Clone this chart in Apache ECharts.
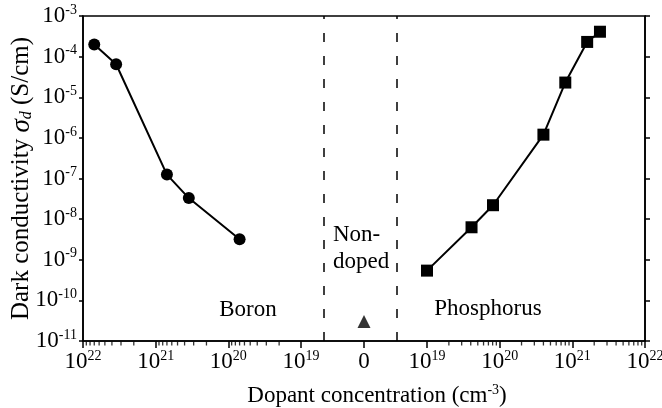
<!DOCTYPE html>
<html>
<head>
<meta charset="utf-8">
<script src="https://cdn.jsdelivr.net/npm/echarts@6/dist/echarts.min.js"></script>
<style>
  html, body { margin: 0; padding: 0; background: #fff; }
  #chart { width: 662px; height: 408px; }
</style>
</head>
<body>
<div id="chart"></div>
<script>
(function(){
    'use strict';

    // boron doped (left half, concentration decreasing to the right)
    var boronConc  = [7.0e21, 3.5e21, 7.0e20, 3.5e20, 7.0e19];
    var boronSigma = [2.0e-4, 6.5e-5, 1.25e-7, 3.3e-8, 3.2e-9];

    // phosphorus doped (right half)
    var phosConc  = [1.0e19, 4.1e19, 8.1e19, 4.0e20, 8.0e20, 1.6e21, 2.4e21];
    var phosSigma = [5.4e-10, 6.3e-9, 2.2e-8, 1.2e-6, 2.3e-5, 2.3e-4, 4.1e-4];

    // non-doped sample, drawn at the "0" position
    var nonDopedSigma = [3.0e-11];

    // x axis tick decades on each side, plus the boundaries of the non-doped band
    var tickDecades = [19, 20, 21, 22];
    var minorMultipliers = [2, 3, 4, 5, 6, 7, 8, 9];
    var bandEdges = [-0.56, 0.45];

    var GAP = 0.867; // axis units between "0" and 10^19
    var FONT = 'Liberation Serif';
    var Y_MIN = 1e-11, Y_MAX = 1e-3;

    function toAxis(conc, side){
        return side * (GAP + Math.log10(conc) - 19);
    }

    var xMin = toAxis(1e22, -1);
    var xMax = toAxis(1e22, 1);

    var majorTicks = [0];
    tickDecades.forEach(function(d){
        majorTicks.push(toAxis(Math.pow(10, d), -1));
        majorTicks.push(toAxis(Math.pow(10, d), 1));
    });
    // log minor ticks, drawn as small marks sitting on the bottom axis
    var minorTickData = [];
    tickDecades.slice(0, 3).forEach(function(d){
        minorMultipliers.forEach(function(m){
            minorTickData.push([toAxis(m * Math.pow(10, d), -1), Y_MIN]);
            minorTickData.push([toAxis(m * Math.pow(10, d), 1), Y_MIN]);
        });
    });

    var boronData = boronConc.map(function(c, i){ return [toAxis(c, -1), boronSigma[i]]; });
    var phosData = phosConc.map(function(c, i){ return [toAxis(c, 1), phosSigma[i]]; });
    var nonDopedData = nonDopedSigma.map(function(s){ return [0, s]; });

    var rich = {
        b: { fontFamily: FONT, fontSize: 23, color: '#000', lineHeight: 26 },
        s: { fontFamily: FONT, fontSize: 14, color: '#000', verticalAlign: 'top', lineHeight: 14 }
    };

    var myChart = echarts.init(document.getElementById('chart'), null, { renderer: 'canvas' });
    var option = {
        animation: false,
        backgroundColor: '#fff',
        grid: {
            left: 83, right: 17, top: 16, bottom: 67,
            outerBoundsMode: 'none', containLabel: false,
            show: true, borderColor: '#000', borderWidth: 1.6, backgroundColor: 'transparent'
        },
        xAxis: {
            type: 'value',
            min: xMin, max: xMax,
            position: 'bottom',
            splitLine: { show: false },
            axisLine: { show: true, onZero: false, lineStyle: { color: '#000', width: 1.6 } },
            axisTick: { show: true, customValues: majorTicks, length: 7, lineStyle: { color: '#000', width: 1.5 } },
            axisLabel: {
                customValues: majorTicks,
                margin: 8,
                formatter: function(v){
                    if (Math.abs(v) < 1e-6) return '{b|0}';
                    var e = Math.round(Math.abs(v) - GAP + 19);
                    return '{b|10}{s|' + e + '}';
                },
                rich: rich
            },
            name: '{b|Dopant concentration (cm}{s|-3}{b|)}',
            nameLocation: 'middle',
            nameGap: 42,
            nameMoveOverlap: false,
            nameTextStyle: { rich: rich, padding: [0, 0, 0, 26] }
        },
        yAxis: [
            {
                type: 'log',
                logBase: 10,
                min: Y_MIN, max: Y_MAX,
                position: 'left',
                splitLine: { show: false },
                axisLine: { show: true, onZero: false, lineStyle: { color: '#000', width: 1.6 } },
                axisTick: { show: true, length: 4, lineStyle: { color: '#000', width: 1.5 } },
                axisLabel: {
                    margin: 6,
                    formatter: function(v){
                        return '{b|10}{s|' + Math.round(Math.log10(v)) + '}';
                    },
                    rich: rich
                },
                name: 'Dark conductivity {i|σ}{d|d} (S/cm)',
                nameLocation: 'middle',
                nameGap: 48,
                nameMoveOverlap: false,
                nameTextStyle: {
                    fontFamily: FONT, fontSize: 25, color: '#000',
                    rich: {
                        i: { fontFamily: FONT, fontSize: 27, fontStyle: 'italic', color: '#000' },
                        d: { fontFamily: FONT, fontSize: 16, fontStyle: 'italic', color: '#000', verticalAlign: 'bottom', lineHeight: 24 }
                    }
                }
            },
            {
                type: 'log',
                logBase: 10,
                min: Y_MIN, max: Y_MAX,
                position: 'right',
                splitLine: { show: false },
                axisLine: { show: true, onZero: false, lineStyle: { color: '#000', width: 1.6 } },
                axisTick: { show: true, length: 5, lineStyle: { color: '#000', width: 1.5 } },
                axisLabel: { show: false }
            }
        ],
        series: [
            {
                name: 'Boron',
                type: 'line',
                data: boronData,
                symbol: 'circle',
                symbolSize: 12,
                itemStyle: { color: '#000' },
                lineStyle: { color: '#000', width: 2 }
            },
            {
                name: 'Phosphorus',
                type: 'line',
                data: phosData,
                symbol: 'rect',
                symbolSize: 12,
                itemStyle: { color: '#000' },
                lineStyle: { color: '#000', width: 2 }
            },
            {
                name: 'Non-doped',
                type: 'scatter',
                data: nonDopedData,
                symbol: 'triangle',
                symbolSize: 13,
                itemStyle: { color: '#000' },
                markLine: {
                    silent: true,
                    symbol: 'none',
                    label: { show: false },
                    lineStyle: { color: '#000', width: 1.5, type: [9, 14] },
                    data: bandEdges.map(function(x){ return { xAxis: x }; })
                }
            },
            {
                name: 'minor ticks',
                type: 'scatter',
                data: minorTickData,
                symbol: 'rect',
                symbolSize: [1.3, 4],
                symbolOffset: [0, 2.5],
                clip: false,
                silent: true,
                z: 5,
                itemStyle: { color: '#000' }
            }
        ],
        graphic: [
            { type: 'text', x: 248, y: 310, style: { text: 'Boron', font: '23px "Liberation Serif"', fill: '#000', textAlign: 'center', textVerticalAlign: 'middle', align: 'center', verticalAlign: 'middle' } },
            { type: 'text', x: 488, y: 309, style: { text: 'Phosphorus', font: '23px "Liberation Serif"', fill: '#000', textAlign: 'center', textVerticalAlign: 'middle', align: 'center', verticalAlign: 'middle' } },
            { type: 'text', x: 333, y: 248, style: { text: 'Non-\ndoped', font: '23px "Liberation Serif"', lineHeight: 27, fill: '#000', textAlign: 'left', textVerticalAlign: 'middle', align: 'left', verticalAlign: 'middle' } }
        ]
    };
    myChart.setOption(option);
})();
</script>
</body>
</html>
